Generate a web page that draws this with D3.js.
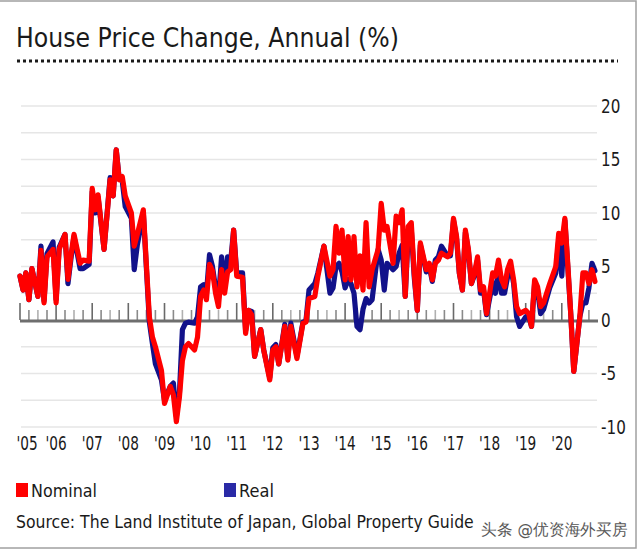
<!DOCTYPE html>
<html>
<head>
<meta charset="utf-8">
<script src="https://cdn.jsdelivr.net/npm/d3@7"></script>
<style>
  html, body { margin: 0; padding: 0; background: #fff; }
  svg { display: block; }
  text { font-family: "DejaVu Sans", Verdana, sans-serif; fill: #1a1a1a; }
</style>
</head>
<body>
<svg id="chart" width="640" height="552"></svg>
<script>
// ---------------- DATA ----------------
const title = "House Price Change, Annual (%)";
const sourceText = "Source: The Land Institute of Japan, Global Property Guide";
const watermark = "头条 @优资海外买房";
const seriesNames = ["Nominal", "Real"];

const dates = [
  "2005-01","2005-02","2005-03","2005-04","2005-05","2005-07","2005-08","2005-09","2005-10","2005-12",
  "2006-01","2006-02","2006-04","2006-05","2006-06","2006-07","2006-09","2006-10","2006-12",
  "2007-01","2007-02","2007-03","2007-05","2007-07","2007-08","2007-09","2007-10","2007-11","2007-12",
  "2008-02","2008-03","2008-04","2008-06","2008-07","2008-08","2008-09","2008-10","2008-12",
  "2009-01","2009-03","2009-04","2009-05","2009-06","2009-07","2009-08","2009-09","2009-11","2009-12",
  "2010-01","2010-02","2010-03","2010-04","2010-05","2010-06","2010-07","2010-08","2010-09","2010-10","2010-11","2010-12",
  "2011-01","2011-03","2011-04","2011-05","2011-06","2011-07","2011-09","2011-10","2011-12",
  "2012-01","2012-02","2012-03","2012-05","2012-06","2012-07","2012-09","2012-11","2012-12",
  "2013-01","2013-03","2013-04","2013-06","2013-08","2013-09","2013-10","2013-11","2013-12",
  "2014-01","2014-02","2014-03","2014-04","2014-05","2014-06","2014-07","2014-08","2014-09","2014-10","2014-12",
  "2015-01","2015-02","2015-03","2015-05","2015-06","2015-07","2015-08","2015-09","2015-10","2015-11","2015-12",
  "2016-01","2016-02","2016-04","2016-05","2016-06","2016-07","2016-08","2016-09","2016-11","2016-12",
  "2017-01","2017-02","2017-03","2017-04","2017-05","2017-06","2017-07","2017-08","2017-09","2017-10","2017-11","2017-12",
  "2018-02","2018-03","2018-04","2018-05","2018-06","2018-07","2018-08","2018-09","2018-10","2018-11",
  "2019-01","2019-02","2019-03","2019-04","2019-05","2019-06","2019-07","2019-09","2019-11","2019-12",
  "2020-01","2020-02","2020-03","2020-04","2020-05","2020-07","2020-08","2020-09","2020-10","2020-11","2020-12"
];

const nominal = [
  4.1,2.8,4.4,1.9,4.8,2.2,6.5,1.6,5.9,6.6,
  1.6,6.6,8.0,3.8,6.1,8.0,5.3,5.6,5.5,
  12.3,10.3,11.7,6.6,13.1,11.6,15.9,13.1,13.4,11.6,
  10.0,6.9,8.0,10.3,5.3,0.3,-1.6,-2.5,-4.7,
  -7.8,-6.2,-7.0,-9.5,-7.2,-3.8,-2.5,-2.2,-2.8,-1.6,
  2.2,2.8,1.9,5.2,4.6,2.5,1.25,4.7,2.5,4.5,4.7,8.4,
  4.1,4.0,-1.25,0.9,0.5,-3.4,-0.9,-2.8,-5.6,
  -2.8,-2.5,-4.1,-0.6,-3.75,-0.6,-3.6,-0.3,-0.2,
  2.0,2.2,4.1,6.9,4.1,4.7,8.75,6.25,8.4,
  3.75,7.8,3.75,7.8,3.1,6.0,2.8,9.1,3.1,4.7,6.6,
  10.9,8.4,8.75,5.3,9.7,9.1,10.3,2.2,8.75,9.1,4.4,
  0.9,7.2,4.7,5.3,3.75,5.3,5.6,6.25,5.9,6.25,
  9.5,7.8,4.4,2.8,8.4,6.6,3.4,4.4,5.9,2.8,3.1,0.6,
  4.4,4.1,5.6,3.8,3.1,4.7,5.5,3.75,1.25,0.6,
  0.9,0.6,-0.6,3.75,3.1,1.25,1.6,3.4,5.0,8.1,
  7.2,9.5,5.3,0.5,-4.8,0.3,4.4,4.4,3.4,4.7,3.6
];

const real = [
  4.1,2.8,4.4,1.9,4.8,2.2,6.9,1.8,6.2,7.3,
  1.9,6.8,8.0,3.4,5.8,7.8,4.8,4.8,5.2,
  12.0,10.0,11.5,6.6,13.3,11.6,15.9,13.2,13.0,10.6,
  9.5,4.7,7.0,10.0,5.0,-0.2,-2.2,-4.1,-5.6,
  -7.5,-6.2,-5.9,-9.0,-6.8,-0.9,-0.3,-0.2,-0.3,0.3,
  3.1,3.3,2.5,6.1,5.0,3.0,2.0,5.9,3.0,5.9,5.5,8.4,
  4.4,4.4,-1.0,0.9,0.8,-3.4,-0.9,-2.8,-5.4,
  -2.6,-2.3,-4.1,-0.4,-3.5,-0.3,-3.4,-0.2,-0.1,
  2.8,3.4,4.4,6.9,2.5,3.0,5.0,5.3,4.5,
  3.0,3.8,3.4,2.5,-0.6,-0.9,1.0,2.0,1.6,1.9,6.6,
  5.6,2.8,5.3,4.7,5.0,6.25,7.0,2.2,8.0,8.5,4.0,
  0.9,7.0,4.5,5.0,3.6,5.6,5.9,6.9,6.0,6.0,
  9.3,7.6,4.4,2.8,8.2,6.4,3.4,4.2,5.6,2.5,2.8,0.5,
  3.5,2.5,4.7,2.5,2.5,4.0,5.0,3.4,0.3,-0.6,
  0.3,0.3,-0.6,3.4,2.8,0.6,1.0,3.0,4.4,7.5,
  4.1,9.3,5.0,0.5,-4.8,0.3,1.6,1.6,3.0,5.3,4.6
];

const yTickValues = [20, 15, 10, 5, 0, -5, -10];
const yGridValues = [20, 17.5, 15, 12.5, 10, 7.5, 5, 2.5, -2.5, -5, -7.5, -10];
const xTickYears = [2005,2006,2007,2008,2009,2010,2011,2012,2013,2014,2015,2016,2017,2018,2019,2020];
const xTickLabels = ["'05","'06","'07","'08","'09","'10","'11","'12","'13","'14","'15","'16","'17","'18","'19","'20"];

// ---------------- DRAW ----------------
const svg = d3.select("#chart");
const parse = d3.timeParse("%Y-%m");
const rows = dates.map((d, i) => ({ date: parse(d), nominal: nominal[i], real: real[i] }));

const x = d3.scaleTime()
  .domain([new Date(2005, 0, 1), new Date(2021, 0, 1)])
  .range([20, 598]);
const y = d3.scaleLinear().domain([-10, 20]).range([427, 106]);

// helper: draw text horizontally squeezed to a target width (via transform, so bbox is real)
function fitText(parent, str, px, py, size, width, extra) {
  const t = parent.append("text").attr("font-size", size).text(str);
  if (extra) extra(t);
  const natural = t.node().getComputedTextLength();
  const sx = width / natural;
  t.attr("transform", `translate(${px},${py}) scale(${sx},1)`);
  return t;
}

// frame
svg.append("rect").attr("x", -2).attr("y", 1).attr("width", 638).attr("height", 547)
  .attr("fill", "#fff").attr("stroke", "#a0a0a0").attr("stroke-width", 1.5);

// title
fitText(svg, title, 16, 47, 26, 383);
svg.append("line").attr("x1", 17).attr("x2", 618).attr("y1", 61).attr("y2", 61)
  .attr("stroke", "#1a1a1a").attr("stroke-width", 3).attr("stroke-dasharray", "3,3");

// gridlines
svg.append("g").selectAll("line").data(yGridValues).join("line")
  .attr("x1", 21).attr("x2", 597)
  .attr("y1", d => y(d)).attr("y2", d => y(d))
  .attr("stroke", "#e6e6e6").attr("stroke-width", 1.5);

// y labels (right side)
svg.append("g").selectAll("text").data(yTickValues).join("text")
  .attr("transform", d => `translate(601,${y(d)}) scale(0.8,1)`)
  .attr("dy", "0.36em")
  .attr("font-size", 19)
  .text(d => d);

// x axis at zero with quarterly ticks
const quarterTicks = d3.timeMonth.every(3).range(new Date(2005, 0, 1), new Date(2021, 0, 1));
const axisG = svg.append("g");
axisG.selectAll("line.tick").data(quarterTicks).join("line")
  .attr("class", "tick")
  .attr("x1", d => x(d)).attr("x2", d => x(d))
  .attr("y1", d => d.getMonth() === 0 ? y(0) - 17 : y(0) - 10)
  .attr("y2", y(0))
  .attr("stroke", d => d.getMonth() === 0 ? "#6a6a6a" : (d.getMonth() === 6 ? "#b0b0b0" : "#8a8a8a"))
  .attr("stroke-width", 1.6);
axisG.append("line")
  .attr("x1", 20).attr("x2", 598).attr("y1", y(0) + 1).attr("y2", y(0) + 1)
  .attr("stroke", "#6e6e6e").attr("stroke-width", 3);

// x labels
svg.append("g").selectAll("text").data(xTickYears).join("text")
  .attr("transform", (d, i) => `translate(${i === 0 ? x(new Date(d, 0, 1)) + 7 : x(new Date(d, 0, 1))},450) scale(0.72,1)`)
  .attr("text-anchor", "middle")
  .attr("font-size", 19)
  .text((d, i) => xTickLabels[i]);

// lines
const lineReal = d3.line().x(d => x(d.date)).y(d => y(d.real));
const lineNom = d3.line().x(d => x(d.date)).y(d => y(d.nominal));
svg.append("path").datum(rows).attr("d", lineReal)
  .attr("fill", "none").attr("stroke", "#12128a").attr("stroke-width", 5.2)
  .attr("stroke-linejoin", "round").attr("stroke-linecap", "round");
svg.append("path").datum(rows).attr("d", lineNom)
  .attr("fill", "none").attr("stroke", "#ff0000").attr("stroke-width", 5.2)
  .attr("stroke-linejoin", "round").attr("stroke-linecap", "round");

// legend
const legendColors = ["#ff0000", "#2a2aa6"];
const legendX = [16, 224];
const legendTextLen = [66, 35];
const lg = svg.append("g");
seriesNames.forEach((name, i) => {
  lg.append("rect").attr("x", legendX[i]).attr("y", 483).attr("width", 12).attr("height", 14)
    .attr("fill", legendColors[i]);
  fitText(lg, name, legendX[i] + 15, 497, 18, legendTextLen[i]);
});

// source
fitText(svg, sourceText, 16, 528, 18, 458);

// watermark
fitText(svg, watermark, 481, 535, 16, 145, t => t
  .attr("font-family", "Noto Sans CJK SC")
  .style("fill", "#3a3a3a").attr("opacity", 0.85)
  .attr("stroke", "#fff").attr("stroke-width", 0.6).attr("paint-order", "stroke"));
</script>
</body>
</html>
